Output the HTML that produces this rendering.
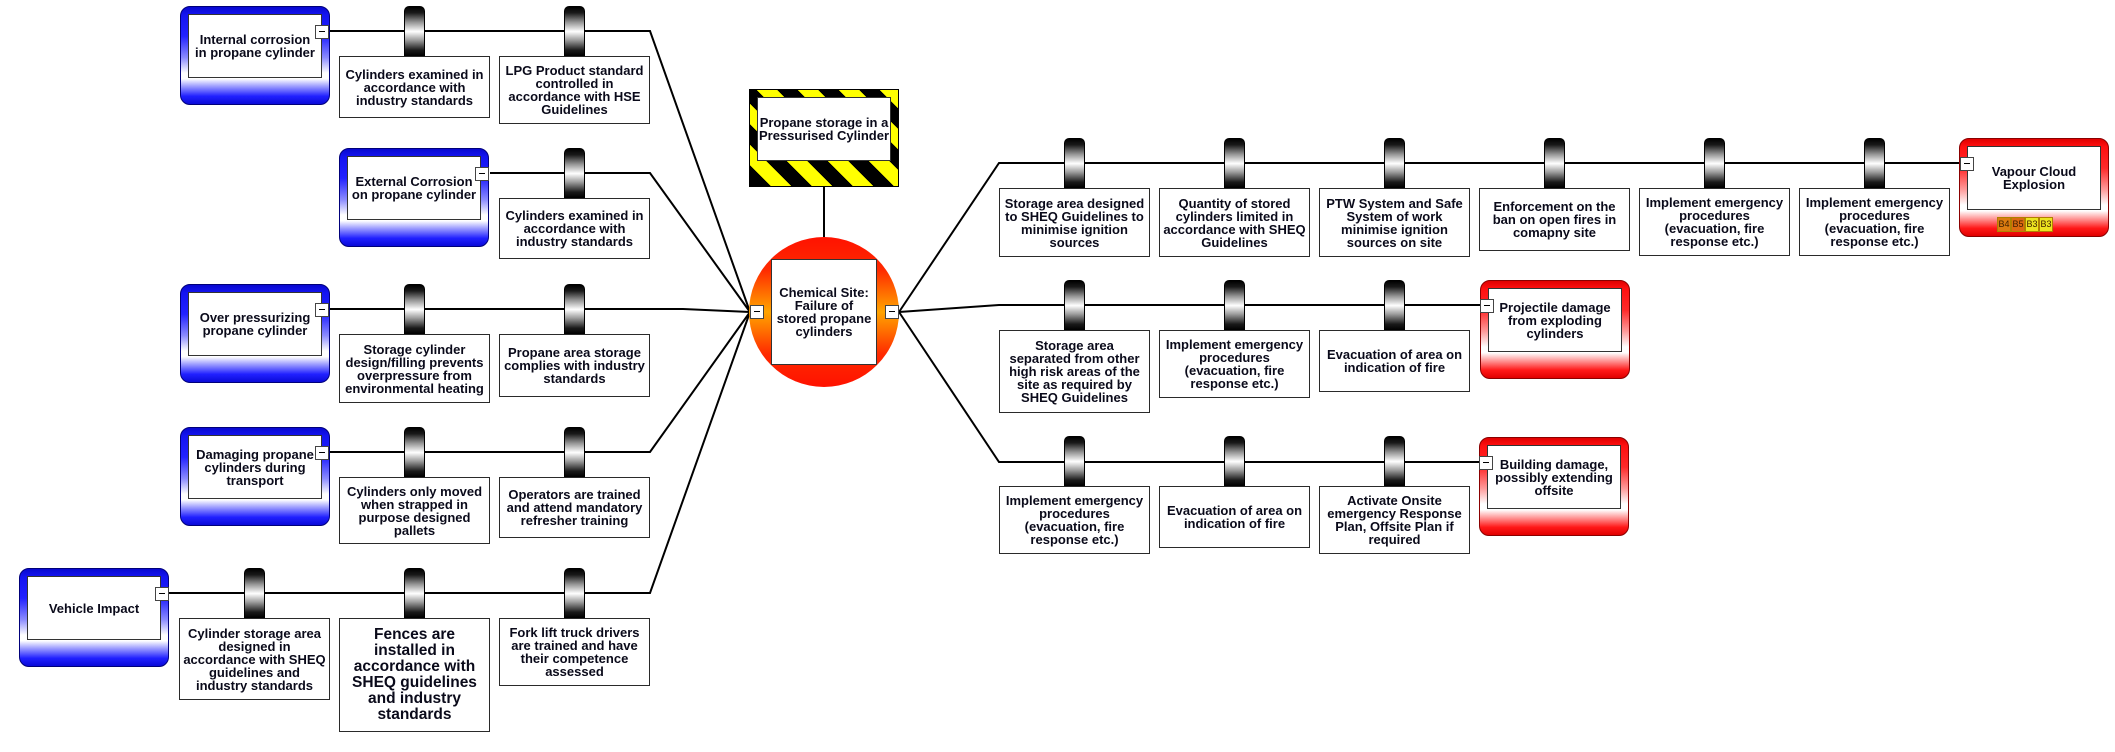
<!DOCTYPE html>
<html>
<head>
<meta charset="utf-8">
<style>
html,body{margin:0;padding:0;background:#fff;}
body{width:2115px;height:752px;position:relative;overflow:hidden;font-family:"Liberation Sans",Arial,sans-serif;font-weight:bold;color:#0a0a1a;}
svg.lines{position:absolute;left:0;top:0;}
.bb{position:absolute;width:151px;box-sizing:border-box;background:#fff;border:1px solid #2a2a2a;display:flex;align-items:center;justify-content:center;text-align:center;font-size:13px;line-height:13px;white-space:nowrap;}
.pill{position:absolute;width:21px;height:50px;box-sizing:border-box;border:1px solid #000;border-bottom:none;border-radius:5px 5px 0 0;background:linear-gradient(to bottom,#000 0%,#1a1a1a 12%,#9a9a9a 32%,#fff 50%,#9a9a9a 68%,#1a1a1a 88%,#000 100%);}
.threat,.cons{position:absolute;width:150px;height:99px;box-sizing:border-box;border-radius:10px;}
.threat{border:1px solid #00007a;background:linear-gradient(to bottom,#0808d0 0%,#1414f0 8%,#2222ff 30%,#8a8aff 52%,#ffffff 68%,#ffffff 74%,#9a9aff 82%,#2020ff 92%,#0a0ad8 100%);}
.cons{border:1px solid #8a0000;background:linear-gradient(to bottom,#e00000 0%,#ff1010 8%,#ff2a2a 30%,#ff9a9a 52%,#ffffff 68%,#ffffff 74%,#ff9a9a 82%,#ff1818 92%,#e00000 100%);}
.inner{position:absolute;left:7px;top:7px;width:134px;height:64px;box-sizing:border-box;background:#fff;border:1px solid #333;display:flex;align-items:center;justify-content:center;text-align:center;font-size:13px;line-height:13px;white-space:nowrap;}
.cb{position:absolute;width:14px;height:14px;box-sizing:border-box;background:#fff;border:1px solid #444;}
.cb::after{content:"";position:absolute;left:3px;right:3px;top:5px;height:1px;background:#000;}
.haz{position:absolute;left:749px;top:89px;width:150px;height:98px;box-sizing:border-box;border:1px solid #000;background:repeating-linear-gradient(45deg,#000 0px,#000 14.5px,#ffff00 14.5px,#ffff00 29px);}
.circle{position:absolute;left:749px;top:237px;width:150px;height:150px;border-radius:50%;background:linear-gradient(to bottom,#ff1200 0%,#ff2a00 22%,#ff7a00 40%,#ffa400 50%,#ff7a00 60%,#ff2a00 78%,#ff1200 100%);}
.badge{position:absolute;top:217px;width:14px;height:15px;box-sizing:border-box;border:1px solid #b08000;font-size:9px;line-height:13px;text-align:center;font-weight:normal;color:#402000;}
</style>
</head>
<body>

<svg class="lines" width="2115" height="752">
<g stroke="#000" stroke-width="2" fill="none">
<polyline points="329,31 650,31 750,312"/>
<polyline points="490,173 650,173 750,312"/>
<polyline points="329,309 683,309 750,312"/>
<polyline points="329,452 650,452 750,312"/>
<polyline points="169,593 650,593 750,312"/>
<line x1="824" y1="187" x2="824" y2="237"/>
<polyline points="899,312 999,163 1960,163"/>
<polyline points="899,312 999,305 1480,305"/>
<polyline points="899,312 999,462 1479,462"/>
</g>
</svg>

<!-- Threats -->
<div class="threat" style="left:180px;top:6px;"><div class="inner">Internal corrosion<br>in propane cylinder</div></div>
<div class="cb" style="left:315px;top:25px;"></div>

<div class="threat" style="left:339px;top:148px;"><div class="inner">External Corrosion<br>on propane cylinder</div></div>
<div class="cb" style="left:475px;top:167px;"></div>

<div class="threat" style="left:180px;top:284px;"><div class="inner">Over pressurizing<br>propane cylinder</div></div>
<div class="cb" style="left:315px;top:303px;"></div>

<div class="threat" style="left:180px;top:427px;"><div class="inner">Damaging propane<br>cylinders during<br>transport</div></div>
<div class="cb" style="left:315px;top:446px;"></div>

<div class="threat" style="left:19px;top:568px;"><div class="inner">Vehicle Impact</div></div>
<div class="cb" style="left:155px;top:587px;"></div>

<!-- Left barriers -->
<div class="pill" style="left:404px;top:6px;"></div>
<div class="bb" style="left:339px;top:56px;height:62px;">Cylinders examined in<br>accordance with<br>industry standards</div>
<div class="pill" style="left:564px;top:6px;"></div>
<div class="bb" style="left:499px;top:56px;height:68px;">LPG Product standard<br>controlled in<br>accordance with HSE<br>Guidelines</div>

<div class="pill" style="left:564px;top:148px;"></div>
<div class="bb" style="left:499px;top:198px;height:61px;">Cylinders examined in<br>accordance with<br>industry standards</div>

<div class="pill" style="left:404px;top:284px;"></div>
<div class="bb" style="left:339px;top:334px;height:69px;">Storage cylinder<br>design/filling prevents<br>overpressure from<br>environmental heating</div>
<div class="pill" style="left:564px;top:284px;"></div>
<div class="bb" style="left:499px;top:334px;height:63px;">Propane area storage<br>complies with industry<br>standards</div>

<div class="pill" style="left:404px;top:427px;"></div>
<div class="bb" style="left:339px;top:477px;height:67px;">Cylinders only moved<br>when strapped in<br>purpose designed<br>pallets</div>
<div class="pill" style="left:564px;top:427px;"></div>
<div class="bb" style="left:499px;top:477px;height:61px;">Operators are trained<br>and attend mandatory<br>refresher training</div>

<div class="pill" style="left:244px;top:568px;"></div>
<div class="bb" style="left:179px;top:618px;height:82px;">Cylinder storage area<br>designed in<br>accordance with SHEQ<br>guidelines and<br>industry standards</div>
<div class="pill" style="left:404px;top:568px;"></div>
<div class="bb" style="left:339px;top:618px;height:114px;font-size:15.5px;line-height:16px;">Fences are<br>installed in<br>accordance with<br>SHEQ guidelines<br>and industry<br>standards</div>
<div class="pill" style="left:564px;top:568px;"></div>
<div class="bb" style="left:499px;top:618px;height:68px;">Fork lift truck drivers<br>are trained and have<br>their competence<br>assessed</div>

<!-- Hazard -->
<div class="haz"><div class="inner" style="left:7px;top:7px;width:134px;height:64px;">Propane storage in a<br>Pressurised Cylinder</div></div>

<!-- Top event -->
<div class="circle"><div class="inner" style="left:22px;top:22px;width:106px;height:106px;">Chemical Site:<br>Failure of<br>stored propane<br>cylinders</div></div>
<div class="cb" style="left:750px;top:305px;"></div>
<div class="cb" style="left:885px;top:305px;"></div>

<!-- Right row 1 -->
<div class="pill" style="left:1064px;top:138px;"></div>
<div class="bb" style="left:999px;top:188px;height:69px;">Storage area designed<br>to SHEQ Guidelines to<br>minimise ignition<br>sources</div>
<div class="pill" style="left:1224px;top:138px;"></div>
<div class="bb" style="left:1159px;top:188px;height:69px;">Quantity of stored<br>cylinders limited in<br>accordance with SHEQ<br>Guidelines</div>
<div class="pill" style="left:1384px;top:138px;"></div>
<div class="bb" style="left:1319px;top:188px;height:69px;">PTW System and Safe<br>System of work<br>minimise ignition<br>sources on site</div>
<div class="pill" style="left:1544px;top:138px;"></div>
<div class="bb" style="left:1479px;top:188px;height:63px;">Enforcement on the<br>ban on open fires in<br>comapny site</div>
<div class="pill" style="left:1704px;top:138px;"></div>
<div class="bb" style="left:1639px;top:188px;height:68px;">Implement emergency<br>procedures<br>(evacuation, fire<br>response etc.)</div>
<div class="pill" style="left:1864px;top:138px;"></div>
<div class="bb" style="left:1799px;top:188px;height:68px;">Implement emergency<br>procedures<br>(evacuation, fire<br>response etc.)</div>

<div class="cons" style="left:1959px;top:138px;"><div class="inner">Vapour Cloud<br>Explosion</div></div>
<div class="cb" style="left:1960px;top:157px;"></div>
<div class="badge" style="left:1997px;background:#dc7c10;">B4</div>
<div class="badge" style="left:2011px;background:#dc6a10;">B5</div>
<div class="badge" style="left:2025px;background:#ece420;">B3</div>
<div class="badge" style="left:2039px;background:#ece420;">B3</div>

<!-- Right row 2 -->
<div class="pill" style="left:1064px;top:280px;"></div>
<div class="bb" style="left:999px;top:330px;height:83px;">Storage area<br>separated from other<br>high risk areas of the<br>site as required by<br>SHEQ Guidelines</div>
<div class="pill" style="left:1224px;top:280px;"></div>
<div class="bb" style="left:1159px;top:330px;height:68px;">Implement emergency<br>procedures<br>(evacuation, fire<br>response etc.)</div>
<div class="pill" style="left:1384px;top:280px;"></div>
<div class="bb" style="left:1319px;top:330px;height:62px;">Evacuation of area on<br>indication of fire</div>

<div class="cons" style="left:1480px;top:280px;"><div class="inner">Projectile damage<br>from exploding<br>cylinders</div></div>
<div class="cb" style="left:1480px;top:299px;"></div>

<!-- Right row 3 -->
<div class="pill" style="left:1064px;top:436px;"></div>
<div class="bb" style="left:999px;top:486px;height:68px;">Implement emergency<br>procedures<br>(evacuation, fire<br>response etc.)</div>
<div class="pill" style="left:1224px;top:436px;"></div>
<div class="bb" style="left:1159px;top:486px;height:62px;">Evacuation of area on<br>indication of fire</div>
<div class="pill" style="left:1384px;top:436px;"></div>
<div class="bb" style="left:1319px;top:486px;height:68px;">Activate Onsite<br>emergency Response<br>Plan, Offsite Plan if<br>required</div>

<div class="cons" style="left:1479px;top:437px;"><div class="inner">Building damage,<br>possibly extending<br>offsite</div></div>
<div class="cb" style="left:1479px;top:456px;"></div>

</body>
</html>
